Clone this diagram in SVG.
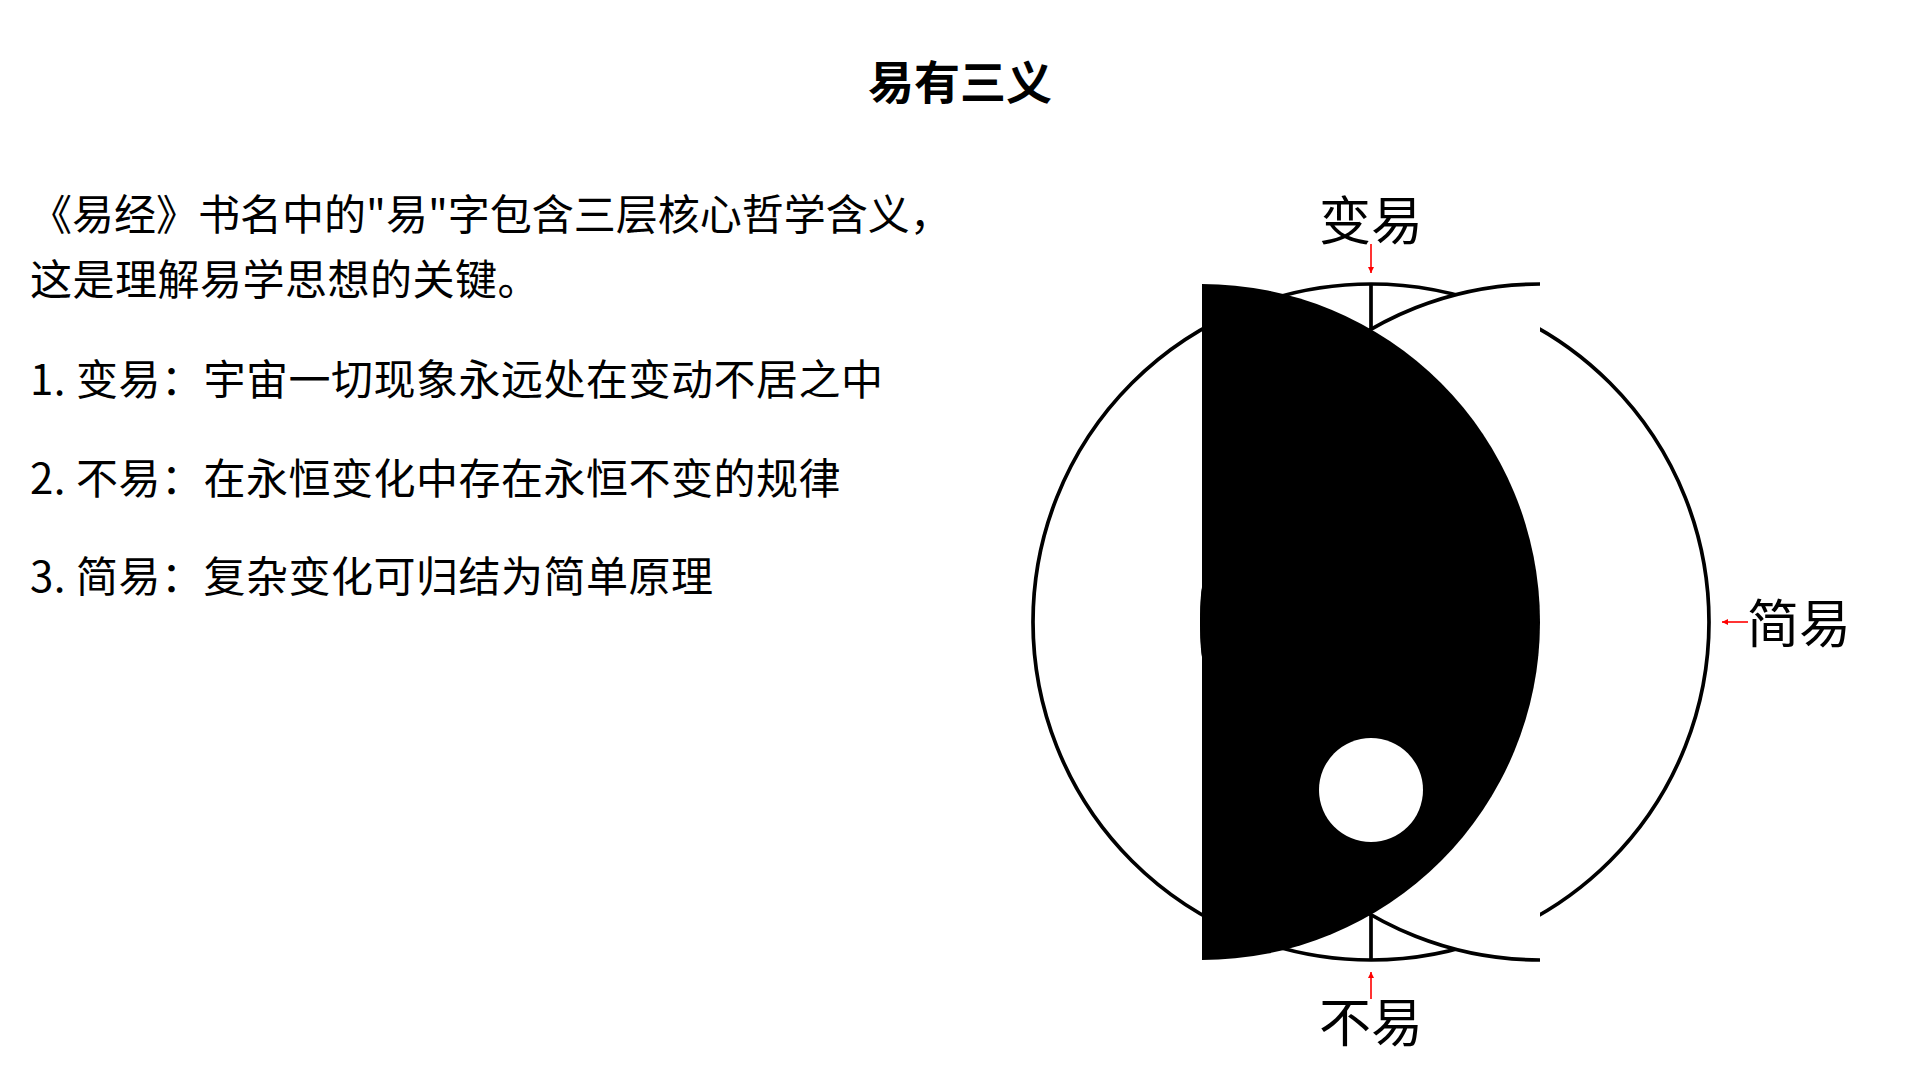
<svg xmlns="http://www.w3.org/2000/svg" width="1920" height="1080" viewBox="0 0 1920 1080">
  <style>
    .txt { font-family: "Noto Sans CJK SC", "Noto Sans", sans-serif; fill: #000; }
    .body { font-size: 42px; letter-spacing: 0.5px; }
    .tight { letter-spacing: 0px; }
    .title { font-size: 46px; font-weight: 700; }
    .lbl { font-size: 52px; }
    .arrow { stroke: #ff0000; stroke-width: 1.6; fill: none; }
  </style>
  <defs>
    <marker id="ah" viewBox="0 0 10 10" refX="10" refY="5" markerWidth="6" markerHeight="6" markerUnits="userSpaceOnUse" orient="auto">
      <path d="M0,0 L10,5 L0,10 Z" fill="#ff0000"/>
    </marker>
  </defs>
  <rect width="1920" height="1080" fill="#fff"/>

  <g id="title">
    <text class="txt title" x="960" y="99" text-anchor="middle">易有三义</text>
  </g>

  <g id="intro">
    <text class="txt body tight" x="30" y="230">《易经》书名中的"易"字包含三层核心哲学含义，</text>
    <text class="txt body" x="30" y="295">这是理解易学思想的关键。</text>
  </g>

  <g id="item1">
    <text class="txt body" x="30" y="395">1. 变易：宇宙一切现象永远处在变动不居之中</text>
  </g>
  <g id="item2">
    <text class="txt body" x="30" y="494">2. 不易：在永恒变化中存在永恒不变的规律</text>
  </g>
  <g id="item3">
    <text class="txt body" x="30" y="592">3. 简易：复杂变化可归结为简单原理</text>
  </g>

  <g id="symbol">
    <circle cx="1371" cy="622" r="338" fill="#fff" stroke="#000" stroke-width="3.7"/>
    <line x1="1371" y1="284" x2="1371" y2="960" stroke="#000" stroke-width="3.7"/>
    <path d="M1540,284 A338,338 0 0,0 1540,960" fill="#fff" stroke="#000" stroke-width="3.7"/>
    <path d="M1202,284 A338,338 0 0,1 1202,960 Z" fill="#000"/>
    <ellipse cx="1203" cy="622" rx="3" ry="36" fill="#000"/>
    <circle cx="1371" cy="790" r="52" fill="#fff"/>
  </g>

  <g id="label-bianyi">
    <text class="txt lbl" x="1371" y="240" text-anchor="middle">变易</text>
  </g>
  <g id="label-buyi">
    <text class="txt lbl" x="1371" y="1042" text-anchor="middle">不易</text>
  </g>
  <g id="label-jianyi">
    <text class="txt lbl" x="1747" y="643">简易</text>
  </g>

  <g id="connectors">
    <line class="arrow" x1="1371" y1="244" x2="1371" y2="273" marker-end="url(#ah)"/>
    <line class="arrow" x1="1371" y1="999" x2="1371" y2="972" marker-end="url(#ah)"/>
    <line class="arrow" x1="1748" y1="622" x2="1722" y2="622" marker-end="url(#ah)"/>
  </g>
</svg>
